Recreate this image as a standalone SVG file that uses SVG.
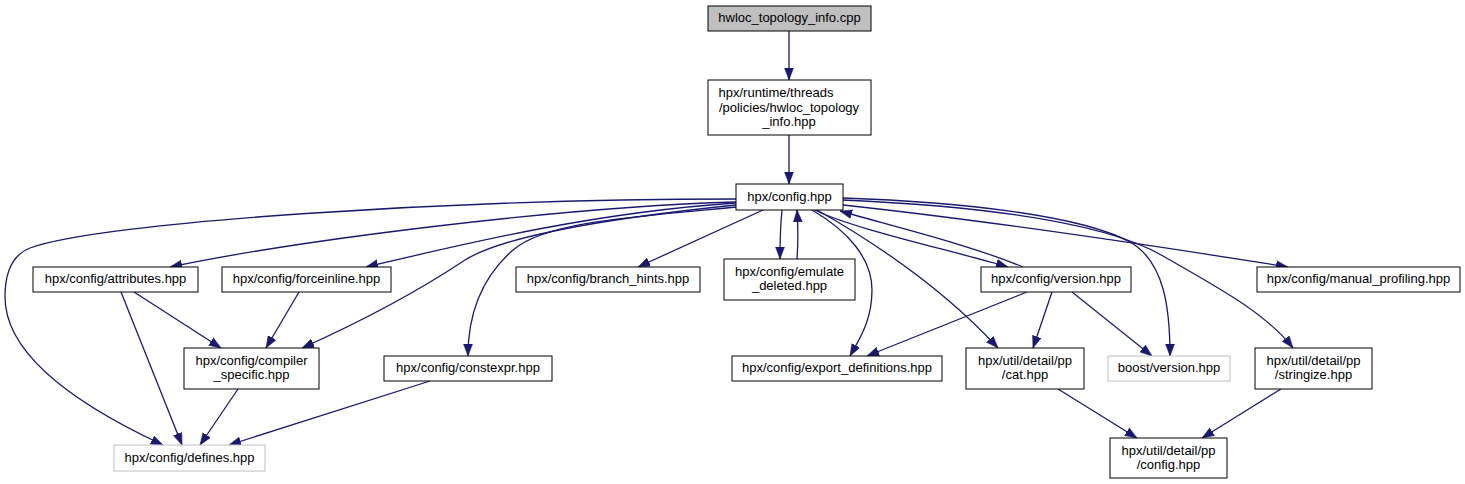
<svg xmlns="http://www.w3.org/2000/svg" width="1465" height="484" viewBox="0 0 1465 484">
<style>
.n rect{fill:#fff;stroke:#000;stroke-width:1}
.n.g rect{stroke:#bfbfbf}
.n.root rect{fill:#bfbfbf}
.n text{font-family:"Liberation Sans",Arial,sans-serif;font-size:13px;fill:#000;text-anchor:middle}
#edges path{fill:none;stroke:#191970;stroke-width:1.3;marker-end:url(#arr)}
</style>
<defs>
<marker id="arr" markerUnits="userSpaceOnUse" viewBox="0 0 12 10" markerWidth="12" markerHeight="10" refX="12" refY="5" orient="auto">
<path d="M0,0.5 L12,5 L0,9.5 z" fill="#191970" stroke="#191970" stroke-width="0.5"/>
</marker>
</defs>
<rect width="1465" height="484" fill="#fff"/>
<g id="edges">
<path d="M789,31 L789,80"/>
<path d="M789,135 L789,184"/>
<path d="M736,199 C 450,199 100,222 30,248 C 12,255 5,272 5,297 C 5,365 105,418 163,445"/>
<path d="M736,202 C 560,207 300,240 170,267"/>
<path d="M736,203 C 600,212 480,240 366,267"/>
<path d="M736,205 C 610,218 505,235 465,260 C 420,290 360,322 302,348"/>
<path d="M737,207 C 630,217 545,222 513,250 C 481,278 468,315 468,356"/>
<path d="M763,210 L638,267"/>
<path d="M782,210 C 780,230 780,245 780,259"/>
<path d="M797,259 C 798,245 798,225 797,210"/>
<path d="M812,210 C 850,232 872,260 872,290 C 872,320 860,338 850,356"/>
<path d="M817,210 C 870,240 940,285 998,348"/>
<path d="M815,210 C 850,228 950,250 1008,267"/>
<path d="M1023,267 C 970,245 900,228 840,211"/>
<path d="M843,198 C 960,202 1080,215 1130,242 C 1165,262 1170,310 1170,356"/>
<path d="M843,200 C 1000,207 1110,225 1163,256 C 1215,286 1265,312 1293,348"/>
<path d="M843,205 C 1000,222 1150,245 1288,267"/>
<path d="M1027,292 L867,356"/>
<path d="M1052,292 L1033,348"/>
<path d="M1072,292 L1152,356"/>
<path d="M1058,389 L1137,438"/>
<path d="M1281,389 L1202,438"/>
<path d="M134,292 L221,348"/>
<path d="M121,292 L182,445"/>
<path d="M299,292 L266,348"/>
<path d="M238,389 L200,445"/>
<path d="M430,381 L229,445"/>
</g>
<g id="n_cpp" class="n root"><rect x="708" y="6" width="163" height="25"/><text x="789.5" y="22">hwloc_topology_info.cpp</text></g>
<g id="n_runtime" class="n"><rect x="708" y="80" width="163" height="55"/><text x="776" y="97">hpx/runtime/threads</text><text x="789" y="111.5">/policies/hwloc_topology</text><text x="789" y="126">_info.hpp</text></g>
<g id="n_config" class="n"><rect x="736" y="184" width="107" height="26"/><text x="789.5" y="201">hpx/config.hpp</text></g>
<g id="n_attributes" class="n"><rect x="33" y="267" width="165" height="25"/><text x="115.5" y="283">hpx/config/attributes.hpp</text></g>
<g id="n_forceinline" class="n"><rect x="222" y="267" width="169" height="25"/><text x="306.5" y="283">hpx/config/forceinline.hpp</text></g>
<g id="n_branch" class="n"><rect x="516" y="267" width="184" height="25"/><text x="608" y="283">hpx/config/branch_hints.hpp</text></g>
<g id="n_emulate" class="n"><rect x="724" y="259" width="131" height="41"/><text x="789.5" y="275.5">hpx/config/emulate</text><text x="789.5" y="289.5">_deleted.hpp</text></g>
<g id="n_version" class="n"><rect x="981" y="267" width="150" height="25"/><text x="1056" y="283">hpx/config/version.hpp</text></g>
<g id="n_manual" class="n"><rect x="1257" y="267" width="203" height="25"/><text x="1358.5" y="283">hpx/config/manual_profiling.hpp</text></g>
<g id="n_compiler" class="n"><rect x="184" y="348" width="135" height="41"/><text x="251.5" y="364.5">hpx/config/compiler</text><text x="251.5" y="378.5">_specific.hpp</text></g>
<g id="n_constexpr" class="n"><rect x="384" y="356" width="168" height="25"/><text x="468" y="372">hpx/config/constexpr.hpp</text></g>
<g id="n_export" class="n"><rect x="732" y="356" width="210" height="25"/><text x="837" y="372">hpx/config/export_definitions.hpp</text></g>
<g id="n_cat" class="n"><rect x="966" y="348" width="118" height="41"/><text x="1025" y="364.5">hpx/util/detail/pp</text><text x="1025" y="378.5">/cat.hpp</text></g>
<g id="n_boost" class="n g"><rect x="1108" y="356" width="122" height="25"/><text x="1169" y="372">boost/version.hpp</text></g>
<g id="n_stringize" class="n"><rect x="1255" y="348" width="117" height="41"/><text x="1313.5" y="364.5">hpx/util/detail/pp</text><text x="1313.5" y="378.5">/stringize.hpp</text></g>
<g id="n_defines" class="n g"><rect x="114" y="445" width="151" height="26"/><text x="189.5" y="462">hpx/config/defines.hpp</text></g>
<g id="n_ppconfig" class="n"><rect x="1110" y="438" width="117" height="40"/><text x="1168.5" y="454.5">hpx/util/detail/pp</text><text x="1168.5" y="468.5">/config.hpp</text></g>
</svg>
